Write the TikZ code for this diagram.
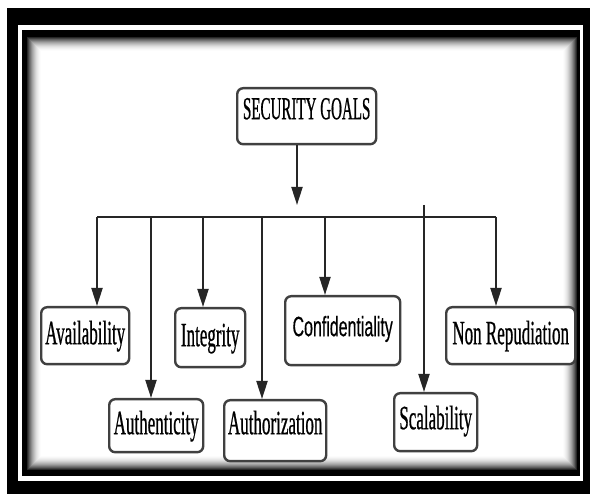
\documentclass[tikz,border=0pt]{standalone}
\usepackage{fontspec}
\usetikzlibrary{arrows.meta}
\newfontfamily\ser{Liberation Serif}[FakeStretch=0.5,FakeBold=0.6]
\newfontfamily\serb{Liberation Serif}[FakeStretch=0.47,FakeBold=0.6]
\newfontfamily\san{Liberation Sans}[FakeStretch=0.57,FakeBold=0.4]
\tikzset{
  gbox/.style={draw=black!75, line width=2.4pt, rounded corners=6pt, inner sep=0pt, anchor=north west, fill=white},
  conn/.style={draw=black!85, line width=2pt},
  arr/.style={conn, -{Triangle[length=18pt,width=11pt]}},
}
\begin{document}
\begin{tikzpicture}[x=1pt,y=-1pt]
\useasboundingbox (0,0) rectangle (590,494);
% frame
\fill[white] (0,0) rectangle (590,494);
\fill[black] (7,8) rectangle (590,494);
\fill[white] (18,25) rectangle (583,481);
\fill[black] (22,30) rectangle (580,476);
\fill[white] (27,37) rectangle (577,470);
\foreach \i in {0,...,14}{
  \pgfmathtruncatemacro\g{85*(1-\i/15)*(1-\i/15)}
  \draw[black!\g, line width=1.1pt] (27.5+\i,37.5+\i) rectangle (576.5-\i,469.5-\i);
}
% nodes
\node[gbox, minimum width=139pt, text height=31pt, text depth=25pt] (sg) at (236,87)
  {\serb\fontsize{32}{32}\selectfont SECURITY GOALS};
\node[gbox, minimum width=88pt, text height=37pt, text depth=20pt] (av) at (40,306)
  {\ser\fontsize{34}{34}\selectfont Availability};
\node[gbox, minimum width=70pt, text height=38pt, text depth=21pt] (ig) at (174,307)
  {\ser\fontsize{34}{34}\selectfont Integrity};
\node[gbox, minimum width=115pt, text height=40pt, text depth=29pt] (cf) at (284,295)
  {\san\fontsize{28}{28}\selectfont Confidentiality};
\node[gbox, minimum width=129pt, text height=37pt, text depth=20pt] (nr) at (445,306)
  {\ser\fontsize{34}{34}\selectfont Non Repudiation};
\node[gbox, minimum width=94pt, text height=35pt, text depth=18pt] (au) at (108,398)
  {\ser\fontsize{34}{34}\selectfont Authenticity};
\node[gbox, minimum width=102pt, text height=34pt, text depth=27pt] (az) at (223,399)
  {\ser\fontsize{34}{34}\selectfont Authorization};
\node[gbox, minimum width=83pt, text height=36pt, text depth=22pt] (sc) at (393,392)
  {\ser\fontsize{34}{34}\selectfont Scalability};
% bus coordinates
\coordinate (top) at (297,205);
\coordinate (b1) at (97,217);
\coordinate (b2) at (151,217);
\coordinate (b3) at (203,217);
\coordinate (b4) at (262,217);
\coordinate (b5) at (325,217);
\coordinate (b6) at (424,205);
\coordinate (b7) at (496,217);
% connectors
\draw[arr] (sg.south -| top) -- (top);
\draw[conn] (b1) -- (b7);
\draw[arr] (b1) -- (av.north -| b1);
\draw[arr] (b2) -- (au.north -| b2);
\draw[arr] (b3) -- (ig.north -| b3);
\draw[arr] (b4) -- (az.north -| b4);
\draw[arr] (b5) -- (cf.north -| b5);
\draw[arr] (b6) -- (sc.north -| b6);
\draw[arr] (b7) -- (nr.north -| b7);
\end{tikzpicture}
\end{document}
